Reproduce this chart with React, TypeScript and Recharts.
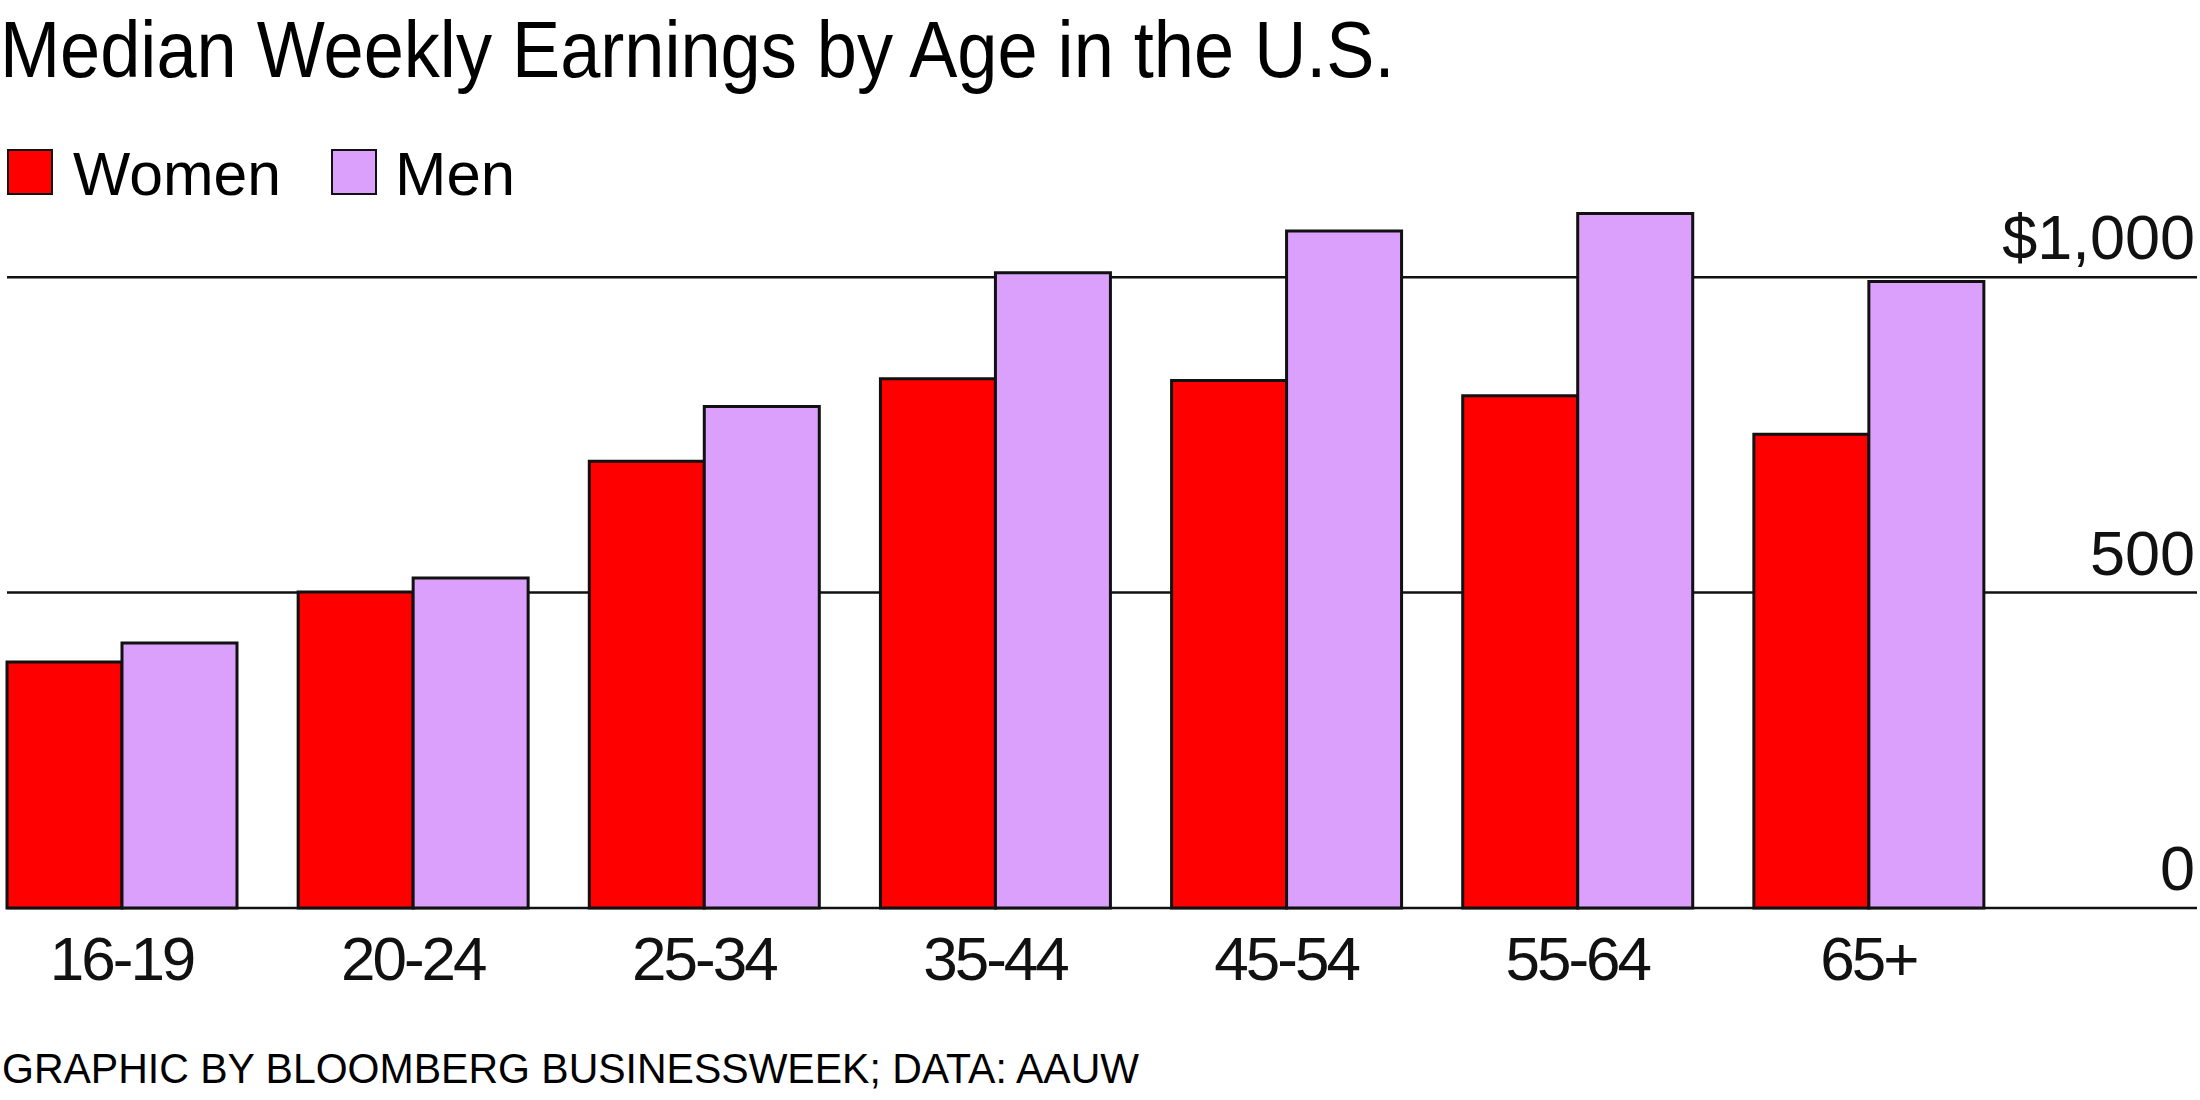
import React from "react";
import { BarChart, Bar, XAxis, YAxis, CartesianGrid } from "recharts";

const ageGroups = ["16-19", "20-24", "25-34", "35-44", "45-54", "55-64", "65+"];
const women = [390, 501, 708, 839, 836, 812, 751];
const men = [420, 523, 795, 1007, 1073, 1101, 993];
const yTicks = [0, 500, 1000];

const data = ageGroups.map((age, i) => ({ age, women: women[i], men: men[i] }));

const FONT = '"Liberation Sans", Arial, Helvetica, sans-serif';
const RED = "#ff0000";
const LILAC = "#daa0fc";
const INK = "#111111";
const HALF_GAP = 31;

// only draw the lines that sit on a tick, and start them where the first bar starts
function gridLine(props: any) {
  const { x1, x2, y1, y2, key, y } = props;
  if (Math.abs(y1 - y) < 1) return <g key={key} />;
  return (
    <line
      key={key}
      x1={x1 + HALF_GAP}
      x2={x2}
      y1={y1}
      y2={y2}
      stroke={INK}
      strokeWidth={2.5}
    />
  );
}

function YTick({ x, y, payload }: any) {
  const label = payload.value === 1000 ? "$1,000" : String(payload.value);
  return (
    <text x={x} y={y - 18} textAnchor="end" fontFamily={FONT} fontSize={63} fill={INK}>
      {label}
    </text>
  );
}

function XTick({ x, y, payload }: any) {
  return (
    <text
      x={x}
      y={y + 72}
      textAnchor="middle"
      fontFamily={FONT}
      fontSize={62}
      letterSpacing={-3}
      fill={INK}
    >
      {payload.value}
    </text>
  );
}

export default function App() {
  return (
    <div style={{ position: "relative", width: 2200, height: 1100, background: "#fff" }}>
      <style>{"body{margin:0}"}</style>
      <BarChart
        width={2200}
        height={1100}
        data={data}
        margin={{ top: 151, right: 3, bottom: 92, left: -24 }}
        barCategoryGap={HALF_GAP}
        barGap={0}
      >
        <CartesianGrid vertical={false} horizontal={gridLine} />
        <XAxis
          dataKey="age"
          axisLine={false}
          tickLine={false}
          tickSize={0}
          tickMargin={0}
          height={100}
          padding={{ left: 0, right: 183 }}
          tick={<XTick />}
          interval={0}
        />
        <YAxis
          orientation="right"
          mirror
          width={1}
          domain={[0, 1200]}
          ticks={yTicks}
          axisLine={false}
          tickLine={false}
          tickSize={0}
          tick={<YTick />}
        />
        <Bar dataKey="women" fill={RED} stroke={INK} strokeWidth={3} isAnimationActive={false} />
        <Bar dataKey="men" fill={LILAC} stroke={INK} strokeWidth={3} isAnimationActive={false} />
      </BarChart>
      <div
        style={{
          position: "absolute",
          left: 0,
          top: 5,
          fontFamily: FONT,
          fontSize: 80,
          lineHeight: "90px",
          whiteSpace: "nowrap",
          color: "#000",
          transform: "scaleX(0.902)",
          transformOrigin: "0 0",
        }}
      >
        Median Weekly Earnings by Age in the U.S.
      </div>
      <svg
        width={2200}
        height={1100}
        style={{ position: "absolute", left: 0, top: 0, pointerEvents: "none" }}
      >
        <rect x={8} y={150} width={44} height={44} fill={RED} stroke={INK} strokeWidth={2} />
        <text x={73} y={195} fontFamily={FONT} fontSize={62} fill="#000" textLength={208} lengthAdjust="spacingAndGlyphs">
          Women
        </text>
        <rect x={332} y={150} width={44} height={44} fill={LILAC} stroke={INK} strokeWidth={2} />
        <text x={395} y={195} fontFamily={FONT} fontSize={62} fill="#000" textLength={120} lengthAdjust="spacingAndGlyphs">
          Men
        </text>
        <text
          x={2}
          y={1083}
          fontFamily={FONT}
          fontSize={42}
          fill="#000"
          textLength={1137}
          lengthAdjust="spacingAndGlyphs"
        >
          GRAPHIC BY BLOOMBERG BUSINESSWEEK; DATA: AAUW
        </text>
      </svg>
    </div>
  );
}
